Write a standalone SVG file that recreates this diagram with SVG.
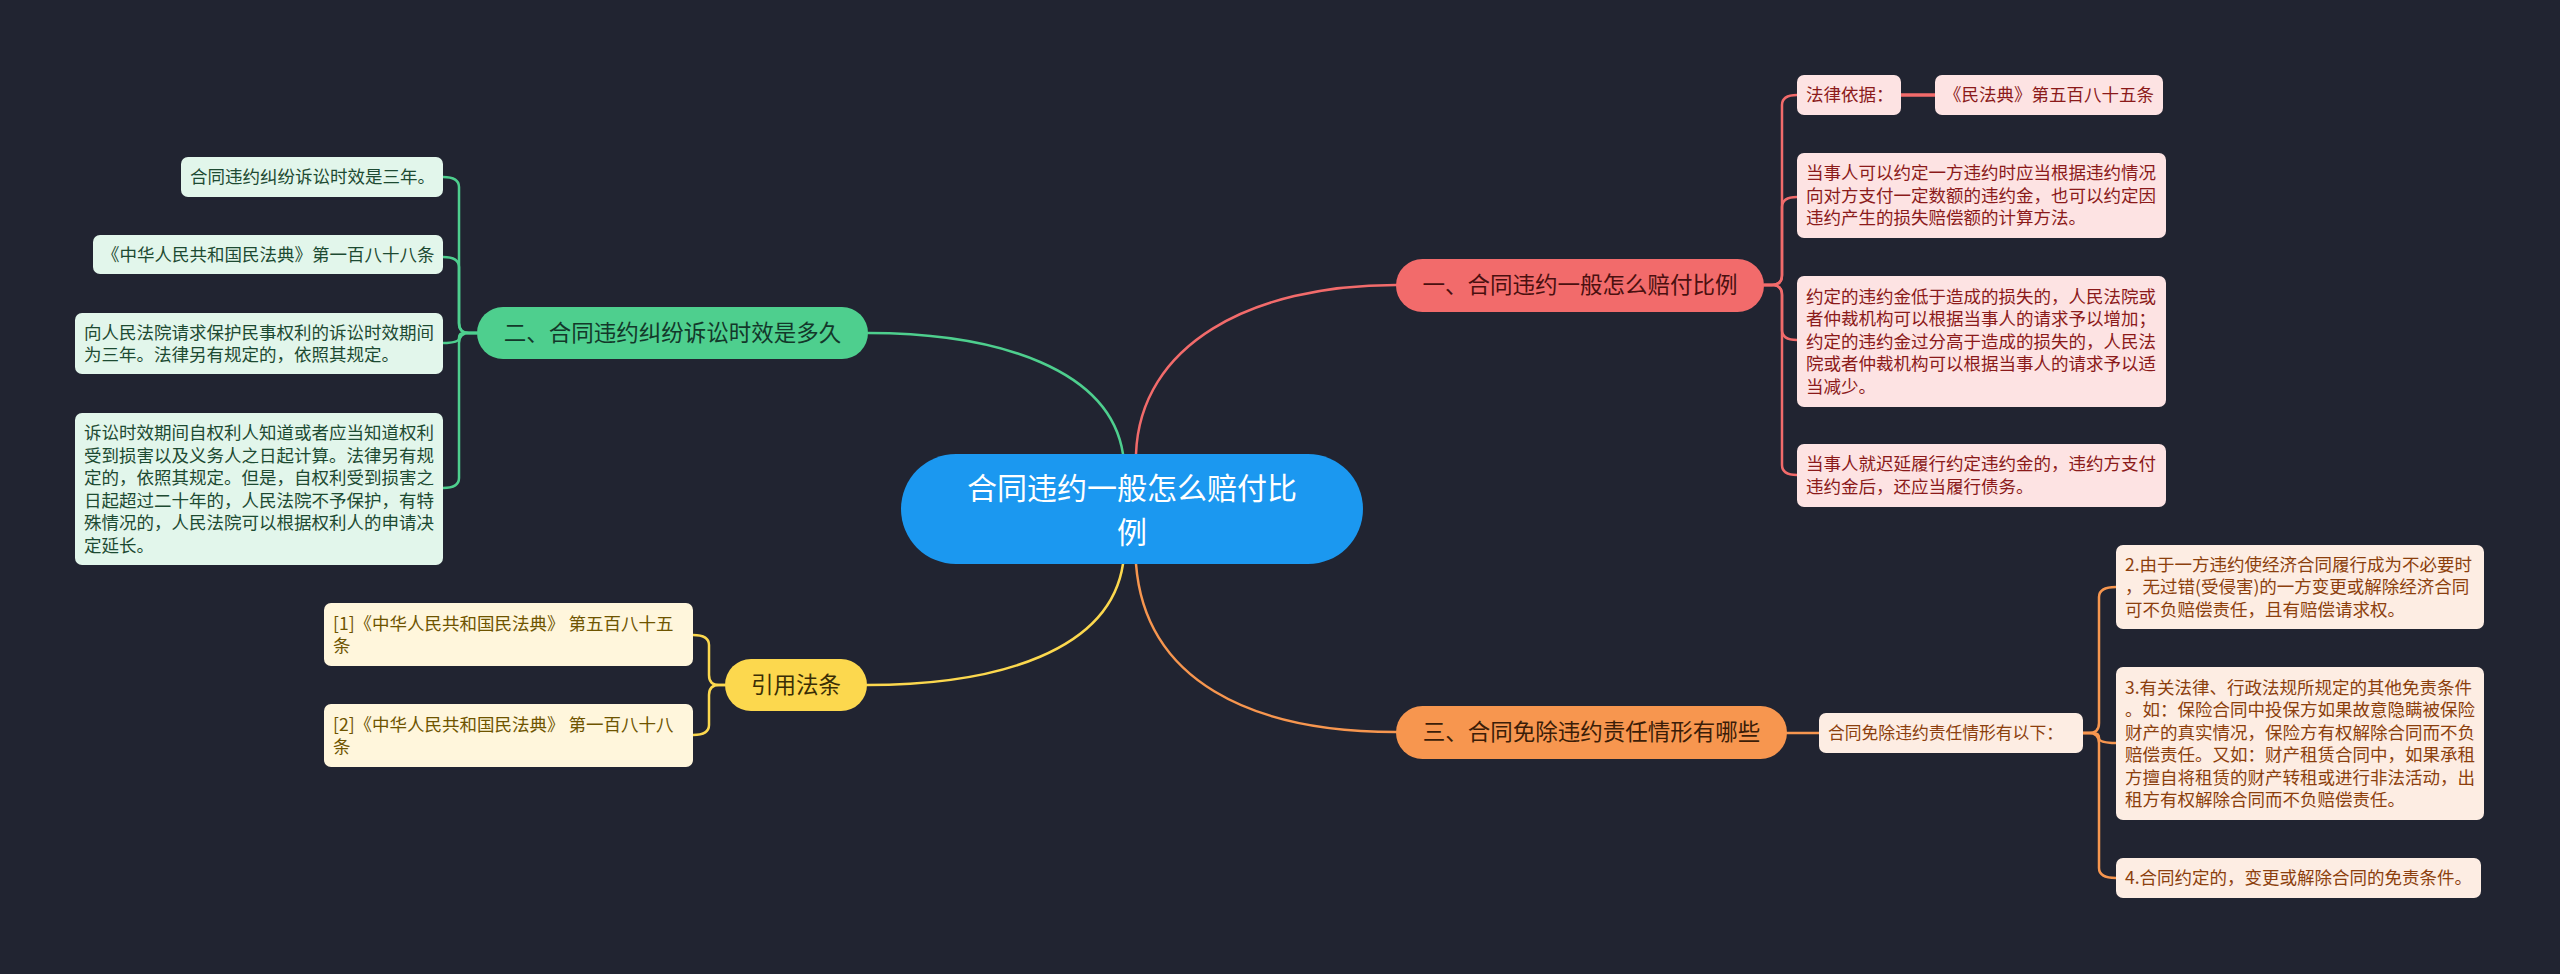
<svg xmlns="http://www.w3.org/2000/svg" width="2560" height="974" viewBox="0 0 2560 974">
<style>
text{font-family:"Noto Sans CJK SC","Noto Sans",sans-serif;}
.conn{fill:none;stroke-width:2.5;stroke-linecap:round;}
.cr{stroke:#f26b6b}.cg{stroke:#4ecf8e}.cy{stroke:#fcd84e}.co{stroke:#f7964f}
.root{fill:#1b98f0}
.br{fill:#f26b6b}.bg{fill:#4ecf8e}.by{fill:#fcd84e}.bo{fill:#f7964f}
.lr{fill:#fde3e3}.lg{fill:#e2f6eb}.ly{fill:#fff6dc}.lo{fill:#fdede3}
.tr{fill:#8b1a1a}.tg{fill:#1d4a32}.ty{fill:#6e5400}.to{fill:#8c3f0d}
.leaf{font-size:17.5px}
.bt{font-size:22.5px;text-anchor:middle}
</style>
<rect width="2560" height="974" fill="#212431"/>
<g id="connectors">
  <path class="conn cg" d="M1123,454 C1110,370 1000,333 868,333"/>
  <path class="conn cr" d="M1136,454 C1140,345 1250,285 1396,285"/>
  <path class="conn cy" d="M1123,564 C1110,650 1000,685 867,685"/>
  <path class="conn co" d="M1136,564 C1145,680 1250,732 1396,732"/>
  <path class="conn cr" d="M1764,285 H1772 Q1782,285 1782,275 V105 Q1782,95 1797,95"/>
  <path class="conn cr" d="M1764,285 H1772 Q1782,285 1782,275 V207 Q1782,197 1797,197"/>
  <path class="conn cr" d="M1764,285 H1772 Q1782,285 1782,295 V330 Q1782,340 1797,340"/>
  <path class="conn cr" d="M1764,285 H1772 Q1782,285 1782,295 V465 Q1782,475 1797,475"/>
  <path class="conn cr" d="M1901,95 H1935" style="stroke-width:3.5"/>
  <path class="conn cg" d="M477,333 H469 Q459,333 459,323 V187 Q459,177 443,177"/>
  <path class="conn cg" d="M477,333 H469 Q459,333 459,323 V267 Q459,257 443,257"/>
  <path class="conn cg" d="M477,333 H464 Q459,333 459,338 Q459,343 443,343"/>
  <path class="conn cg" d="M477,333 H469 Q459,333 459,343 V478 Q459,488 443,488"/>
  <path class="conn cy" d="M725,685 H719 Q709,685 709,675 V645 Q709,635 693,635"/>
  <path class="conn cy" d="M725,685 H719 Q709,685 709,695 V725 Q709,735 693,735"/>
  <path class="conn co" d="M1787,733 H1819"/>
  <path class="conn co" d="M2083,733 H2089 Q2099,733 2099,723 V597 Q2099,587 2116,587"/>
  <path class="conn co" d="M2083,733 H2093 Q2099,733 2099,738 Q2099,743 2116,743"/>
  <path class="conn co" d="M2083,733 H2089 Q2099,733 2099,743 V868 Q2099,878 2116,878"/>
</g>
<g id="root">
  <rect class="root" x="901" y="454" width="462" height="110" rx="55"/>
  <text x="1132" y="499" font-size="30" fill="#ffffff" text-anchor="middle">合同违约一般怎么赔付比</text>
  <text x="1132" y="543" font-size="30" fill="#ffffff" text-anchor="middle">例</text>
</g>
<g id="branch1">
  <rect class="br" x="1396" y="259" width="368" height="53" rx="26.5"/>
  <text class="bt" x="1580" y="293" fill="#4a1010">一、合同违约一般怎么赔付比例</text>
</g>
<g id="b1-basis">
  <rect class="lr" x="1797" y="75" width="104" height="40" rx="7"/>
  <text class="leaf tr" x="1806" y="101">法律依据：</text>
</g>
<g id="b1-basis-ref">
  <rect class="lr" x="1935" y="75" width="228" height="40" rx="7"/>
  <text class="leaf tr" x="1944" y="101">《民法典》第五百八十五条</text>
</g>
<g id="b1-a">
  <rect class="lr" x="1797" y="153" width="369" height="85" rx="7"/>
  <text class="leaf tr" x="1806" y="179">当事人可以约定一方违约时应当根据违约情况</text>
  <text class="leaf tr" x="1806" y="201.5">向对方支付一定数额的违约金，也可以约定因</text>
  <text class="leaf tr" x="1806" y="224">违约产生的损失赔偿额的计算方法。</text>
</g>
<g id="b1-b">
  <rect class="lr" x="1797" y="276" width="369" height="131" rx="7"/>
  <text class="leaf tr" x="1806" y="302.5">约定的违约金低于造成的损失的，人民法院或</text>
  <text class="leaf tr" x="1806" y="325">者仲裁机构可以根据当事人的请求予以增加；</text>
  <text class="leaf tr" x="1806" y="347.5">约定的违约金过分高于造成的损失的，人民法</text>
  <text class="leaf tr" x="1806" y="370">院或者仲裁机构可以根据当事人的请求予以适</text>
  <text class="leaf tr" x="1806" y="392.5">当减少。</text>
</g>
<g id="b1-c">
  <rect class="lr" x="1797" y="444" width="369" height="63" rx="7"/>
  <text class="leaf tr" x="1806" y="470">当事人就迟延履行约定违约金的，违约方支付</text>
  <text class="leaf tr" x="1806" y="492.5">违约金后，还应当履行债务。</text>
</g>
<g id="branch2">
  <rect class="bg" x="477" y="307" width="391" height="52" rx="26"/>
  <text class="bt" x="672.5" y="341" fill="#13382a">二、合同违约纠纷诉讼时效是多久</text>
</g>
<g id="b2-a">
  <rect class="lg" x="181" y="157" width="262" height="40" rx="7"/>
  <text class="leaf tg" x="190" y="183">合同违约纠纷诉讼时效是三年。</text>
</g>
<g id="b2-b">
  <rect class="lg" x="93" y="235" width="350" height="39" rx="7"/>
  <text class="leaf tg" x="102" y="260.5">《中华人民共和国民法典》第一百八十八条</text>
</g>
<g id="b2-c">
  <rect class="lg" x="75" y="313" width="368" height="61" rx="7"/>
  <text class="leaf tg" x="84" y="338.5">向人民法院请求保护民事权利的诉讼时效期间</text>
  <text class="leaf tg" x="84" y="361">为三年。法律另有规定的，依照其规定。</text>
</g>
<g id="b2-d">
  <rect class="lg" x="75" y="413" width="368" height="152" rx="7"/>
  <text class="leaf tg" x="84" y="439">诉讼时效期间自权利人知道或者应当知道权利</text>
  <text class="leaf tg" x="84" y="461.5">受到损害以及义务人之日起计算。法律另有规</text>
  <text class="leaf tg" x="84" y="484">定的，依照其规定。但是，自权利受到损害之</text>
  <text class="leaf tg" x="84" y="506.5">日起超过二十年的，人民法院不予保护，有特</text>
  <text class="leaf tg" x="84" y="529">殊情况的，人民法院可以根据权利人的申请决</text>
  <text class="leaf tg" x="84" y="551.5">定延长。</text>
</g>
<g id="branch-cite">
  <rect class="by" x="725" y="659" width="142" height="52" rx="26"/>
  <text class="bt" x="796" y="693" fill="#3a2e05">引用法条</text>
</g>
<g id="cite-1">
  <rect class="ly" x="324" y="603" width="369" height="63" rx="7"/>
  <text class="leaf ty" x="333" y="629.5">[1]《中华人民共和国民法典》 第五百八十五</text>
  <text class="leaf ty" x="333" y="652">条</text>
</g>
<g id="cite-2">
  <rect class="ly" x="324" y="704" width="369" height="63" rx="7"/>
  <text class="leaf ty" x="333" y="730.5">[2]《中华人民共和国民法典》 第一百八十八</text>
  <text class="leaf ty" x="333" y="753">条</text>
</g>
<g id="branch3">
  <rect class="bo" x="1396" y="706" width="391" height="53" rx="26.5"/>
  <text class="bt" x="1591.5" y="740" fill="#3b1d08">三、合同免除违约责任情形有哪些</text>
</g>
<g id="b3-head">
  <rect class="lo" x="1819" y="713" width="264" height="40" rx="7"/>
  <text class="to" x="1828" y="739" font-size="16.8">合同免除违约责任情形有以下：</text>
</g>
<g id="b3-a">
  <rect class="lo" x="2116" y="545" width="368" height="84" rx="7"/>
  <text class="leaf to" x="2125" y="570.5">2.由于一方违约使经济合同履行成为不必要时</text>
  <text class="leaf to" x="2125" y="593">，无过错(受侵害)的一方变更或解除经济合同</text>
  <text class="leaf to" x="2125" y="615.5">可不负赔偿责任，且有赔偿请求权。</text>
</g>
<g id="b3-b">
  <rect class="lo" x="2116" y="667" width="368" height="153" rx="7"/>
  <text class="leaf to" x="2125" y="693.5">3.有关法律、行政法规所规定的其他免责条件</text>
  <text class="leaf to" x="2125" y="716">。如：保险合同中投保方如果故意隐瞒被保险</text>
  <text class="leaf to" x="2125" y="738.5">财产的真实情况，保险方有权解除合同而不负</text>
  <text class="leaf to" x="2125" y="761">赔偿责任。又如：财产租赁合同中，如果承租</text>
  <text class="leaf to" x="2125" y="783.5">方擅自将租赁的财产转租或进行非法活动，出</text>
  <text class="leaf to" x="2125" y="806">租方有权解除合同而不负赔偿责任。</text>
</g>
<g id="b3-c">
  <rect class="lo" x="2116" y="858" width="365" height="40" rx="7"/>
  <text class="leaf to" x="2125" y="884">4.合同约定的，变更或解除合同的免责条件。</text>
</g>
</svg>
